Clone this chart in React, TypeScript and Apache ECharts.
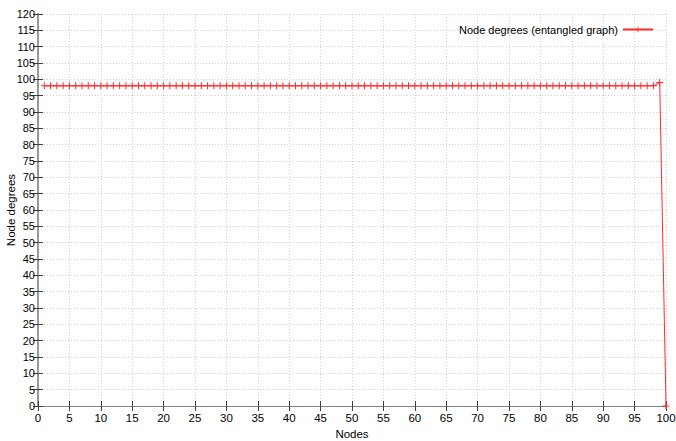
import React, { useEffect, useRef } from "react";
import * as echarts from "echarts";

const nodes: number[] = Array.from({ length: 100 }, (_, i) => i + 1);
const degrees: number[] = [
  98, 98, 98, 98, 98, 98, 98, 98, 98, 98,
  98, 98, 98, 98, 98, 98, 98, 98, 98, 98,
  98, 98, 98, 98, 98, 98, 98, 98, 98, 98,
  98, 98, 98, 98, 98, 98, 98, 98, 98, 98,
  98, 98, 98, 98, 98, 98, 98, 98, 98, 98,
  98, 98, 98, 98, 98, 98, 98, 98, 98, 98,
  98, 98, 98, 98, 98, 98, 98, 98, 98, 98,
  98, 98, 98, 98, 98, 98, 98, 98, 98, 98,
  98, 98, 98, 98, 98, 98, 98, 98, 98, 98,
  98, 98, 98, 98, 98, 98, 98, 98, 99, 0,
];
const seriesName = "Node degrees (entangled graph)";
const xTitle = "Nodes";
const yTitle = "Node degrees";

const FONT = "'Liberation Sans', Arial, sans-serif";
const PLUS = "path://M6,0 H8 V6 H14 V8 H8 V14 H6 V8 H0 V6 H6 Z";

export default function App() {
  const ref = useRef<HTMLDivElement>(null);
  useEffect(() => {
    if (!ref.current) return;
    const chart = echarts.init(ref.current, null, { renderer: "svg" });
    const axisLine = { show: true, lineStyle: { color: "#808080", width: 1 } };
    const tick = { show: true, inside: true, length: 5, lineStyle: { color: "#404040" } };
    const split = { show: true, lineStyle: { color: "#cfcfcf", type: [1, 2] as any, width: 1 } };
    chart.setOption({
      animation: false,
      backgroundColor: "#ffffff",
      grid: { left: 38, right: 10, top: 14, bottom: 35, containLabel: false, outerBoundsMode: "none" },
      legend: {
        show: true,
        top: 19,
        right: 17,
        align: "right",
        itemWidth: 30,
        itemHeight: 7,
        itemGap: 6,
        textStyle: { fontFamily: FONT, fontSize: 11, color: "#000" },
        data: [seriesName],
      },
      xAxis: [
        {
          type: "value",
          min: 0,
          max: 100,
          interval: 5,
          axisLine,
          axisTick: tick,
          splitLine: split,
          axisLabel: { fontFamily: FONT, fontSize: 11.5, color: "#000", margin: 6 },
          name: xTitle,
          nameLocation: "middle",
          nameGap: 22,
          nameMoveOverlap: false,
          nameTextStyle: { fontFamily: FONT, fontSize: 11.5, color: "#000" },
        },
        {
          type: "value",
          position: "top",
          min: 0,
          max: 100,
          interval: 5,
          axisLine,
          axisTick: tick,
          splitLine: { show: false },
          axisLabel: { show: false },
        },
      ],
      yAxis: [
        {
          type: "value",
          min: 0,
          max: 120,
          interval: 5,
          axisLine,
          axisTick: tick,
          splitLine: split,
          axisLabel: { fontFamily: FONT, fontSize: 11, color: "#000", margin: 3 },
          name: yTitle,
          nameLocation: "middle",
          nameGap: 21,
          nameRotate: 90,
          nameMoveOverlap: false,
          nameTextStyle: { fontFamily: FONT, fontSize: 11.5, color: "#000" },
        },
        {
          type: "value",
          position: "right",
          min: 0,
          max: 120,
          interval: 5,
          axisLine: { show: true, lineStyle: { color: "#999", width: 2 } },
          axisTick: tick,
          splitLine: { show: false },
          axisLabel: { show: false },
        },
      ],
      series: [
        {
          name: seriesName,
          type: "line",
          xAxisIndex: 0,
          yAxisIndex: 0,
          data: nodes.map((n, i) => [n, degrees[i]]),
          symbol: PLUS,
          symbolSize: 7,
          showAllSymbol: true,
          lineStyle: { color: "#ff2a2a", width: 1 },
          itemStyle: { color: "#ff2a2a" },
        },
      ],
    });
    return () => chart.dispose();
  }, []);
  return (
    <div
      ref={ref}
      style={{ position: "fixed", left: 0, top: 0, width: 676, height: 441, background: "#fff" }}
    />
  );
}
